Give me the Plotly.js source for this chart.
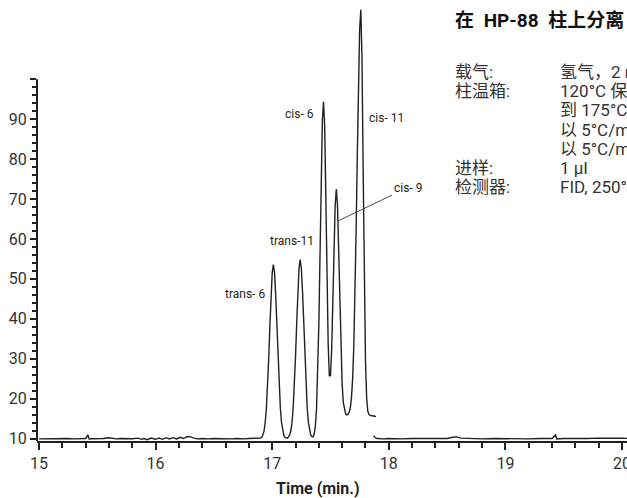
<!DOCTYPE html>
<html>
<head>
<meta charset="utf-8">
<script src="https://cdn.plot.ly/plotly-3.0.1.min.js"></script>
<style>
html,body{margin:0;padding:0;overflow:hidden;background:#fff;}
#chart{width:700px;height:498px;}
</style>
</head>
<body>
<div id="chart"></div>
<script>
// ---- data ----
const baseTimeA = [15.00,15.05,15.10,15.15,15.20,15.25,15.30,15.35,15.40,15.42,15.43,15.45,15.50,15.55,15.60,15.63,15.66,15.70,15.75,15.80,15.85,15.88,15.90,15.93,15.96,16.00,16.03,16.06,16.09,16.12,16.15,16.18,16.21,16.24,16.27,16.30,16.33,16.36,16.40,16.45,16.50,16.55,16.60,16.65,16.70,16.75,16.80,16.85,16.89];
const baseValA  = [9.9,9.95,10.0,9.9,9.95,10.0,9.9,9.95,10.0,10.9,9.9,9.95,9.9,10.0,10.2,10.1,9.9,10.0,9.9,9.95,10.1,9.8,10.0,9.7,10.1,9.8,10.1,9.8,10.2,9.9,10.2,9.9,10.3,10.0,10.5,10.4,10.1,9.9,10.0,9.9,10.0,9.95,10.0,9.9,10.0,9.9,10.0,10.0,10.0];

const peakTime = [16.90,16.91,16.92,16.93,16.94,16.95,16.96,16.97,16.98,16.99,17.00,17.01,17.02,17.03,17.04,17.05,17.06,17.07,17.08,17.09,17.10,17.11,17.12,17.13,17.14,17.15,17.16,17.17,17.18,17.19,17.20,17.21,17.22,17.23,17.24,17.25,17.26,17.27,17.28,17.29,17.30,17.31,17.32,17.33,17.34,17.35,17.36,17.37,17.38,17.39,17.40,17.41,17.42,17.43,17.44,17.45,17.46,17.47,17.48,17.49,17.50,17.51,17.52,17.53,17.54,17.55,17.56,17.57,17.58,17.59,17.60,17.61,17.62,17.63,17.64,17.65,17.66,17.67,17.68,17.69,17.70,17.71,17.72,17.73,17.74,17.75,17.76,17.77,17.78,17.79,17.80,17.81,17.82,17.83,17.84,17.85,17.86,17.87,17.88,17.89];
const peakSignal = [10.1,10.3,10.8,11.9,14.0,17.5,22.9,30.0,38.1,45.9,51.5,53.6,51.5,45.9,38.1,30.0,22.9,17.5,14.0,11.9,10.8,10.3,10.1,10.1,10.4,10.9,12.0,14.1,17.7,23.2,30.5,38.9,46.9,52.6,54.8,52.6,46.9,38.9,30.5,23.2,17.7,14.1,12.0,10.9,10.5,10.4,11.1,13.1,17.3,25.4,38.5,55.8,74.6,89.5,94.4,88.3,70.4,49.6,33.7,25.6,25.8,32.3,43.8,57.2,68.4,72.5,68.4,57.2,43.6,31.6,23.5,19.0,16.9,16.1,15.9,16.1,16.6,17.7,20.3,25.1,33.3,45.8,62.4,81.3,99.5,112.6,117.4,105.4,77.4,48.8,29.4,20.2,16.8,16.0,15.8,15.7,15.7,15.6,15.6,15.5];

const baseTimeB = [17.87,17.88,17.90,17.95,18.00,18.10,18.20,18.30,18.40,18.50,18.55,18.58,18.62,18.70,18.80,18.90,19.00,19.10,19.20,19.30,19.40,19.43,19.44,19.50,19.60,19.70,19.80,19.90,20.00,20.10,20.20,20.30,20.40,20.50,20.60,20.70];
const baseValB  = [10.7,10.3,10.0,9.9,10.0,9.9,10.0,9.95,10.0,10.0,10.3,10.4,10.1,10.0,9.9,10.0,9.95,10.0,9.9,10.0,10.0,10.9,9.9,10.0,9.95,10.0,10.1,10.0,10.05,10.0,10.0,9.95,10.0,9.9,10.0,10.0];

const peakNames = ['trans- 6','trans-11','cis- 6','cis- 9','cis- 11'];
const peakApexTime = [17.01,17.24,17.44,17.55,17.76];
const peakApexHeight = [53.6,54.8,94.4,72.5,117.4];

const xTickVals = [15,16,17,18,19,20];
const yTickVals = [10,20,30,40,50,60,70,80,90,100];
const yTickText = ['10','20','30','40','50','60','70','80','90',''];

const xTitle = 'Time (min.)';
const headTitle = '在\u2002HP-88\u2002柱上分离 C18:1 异构体';
const condLabels = ['载气:','柱温箱:','','','','进样:','检测器:'];
const condValues = ['氢气，2 ml/min','120°C 保持 1 min','到 175°C，保持 10 min','以 5°C/min 升温到 210°C','以 5°C/min 升温到 230°C','1 µl','FID, 250°C'];

// ---- layout geometry ----
const W = 700, H = 498;
const mL = 37, mR = 0, mT = 0, mB = 57;
const plotW = W - mL - mR, plotH = H - mT - mB;
const pxPerMin = 116.6, pxPerUnit = 3.991;
const x0 = 15 - 2 / pxPerMin;
const y0 = 10 - 2.5 / pxPerUnit;
const xRange = [x0, x0 + plotW / pxPerMin];
const yRange = [y0, y0 + plotH / pxPerUnit];
const px2paperX = p => (p - mL) / plotW;
const px2paperY = p => (mT + plotH - p) / plotH;

const LAT = "Roboto,'Noto Sans CJK SC',sans-serif";
const INK = '#231f20';

const xsJoined = baseTimeA.concat(peakTime, [null], baseTimeB);
const ysJoined = baseValA.concat(peakSignal, [null], baseValB);

const trace = {
  x: xsJoined, y: ysJoined, type: 'scatter', mode: 'lines',
  line: {color: INK, width: 1.4}, connectgaps: false, hoverinfo: 'skip'
};

const annotations = [];
const lblCfg = [
  {xa:'center', dx:-28.6, dy:-30},
  {xa:'center', dx:-8.3, dy:18.3},
  {xa:'right', dx:-8, dy:-12.3},
  null,
  {xa:'left', dx:6, dy:-108}
];
peakNames.forEach((n,i)=>{
  if (i === 3) {
    annotations.push({
      x: peakApexTime[i], y: peakApexHeight[i], xref:'x', yref:'y',
      xshift: 2.3, yshift: -31.6,
      text: n, showarrow: true, arrowhead: 0, arrowwidth: 0.8, arrowcolor: INK,
      ax: 69, ay: -33, xanchor:'center', yanchor:'middle',
      font:{family: LAT, size: 12, color: INK}
    });
  } else {
    const c = lblCfg[i];
    annotations.push({
      x: peakApexTime[i], y: peakApexHeight[i], xref:'x', yref:'y',
      xshift: c.dx, yshift: c.dy, text: n, showarrow:false,
      xanchor: c.xa, yanchor:'middle',
      font:{family: LAT, size: 12, color: INK}
    });
  }
});
annotations.push({
  x: px2paperX(318), y: px2paperY(488), xref:'paper', yref:'paper',
  text: '<b>'+xTitle+'</b>', showarrow:false, xanchor:'center', yanchor:'middle',
  font:{family: LAT, size: 16, color: INK}
});
annotations.push({
  x: px2paperX(453), y: px2paperY(20), xref:'paper', yref:'paper',
  text: '<b>'+headTitle+'</b>', showarrow:false, xanchor:'left', yanchor:'middle',
  font:{family: LAT, size: 19, color: '#111'}
});
const rowY = [72, 91, 110, 130, 149, 168, 187];
condLabels.forEach((l,i)=>{
  if (l) annotations.push({
    x: px2paperX(453), y: px2paperY(rowY[i]), xref:'paper', yref:'paper',
    text: l, showarrow:false, xanchor:'left', yanchor:'middle',
    font:{family: LAT, size: 17, color: '#333'}
  });
  annotations.push({
    x: px2paperX(558), y: px2paperY(rowY[i]), xref:'paper', yref:'paper',
    text: condValues[i], showarrow:false, xanchor:'left', yanchor:'middle',
    font:{family: LAT, size: 17, color: '#333'}
  });
});

const minorY = [];
for (let v = 12; v < 100; v += 2) if (v % 10 !== 0) minorY.push(v);

const layout = {
  width: W, height: H,
  margin: {l: mL, r: mR, t: mT, b: mB, pad: 0},
  paper_bgcolor: '#fff', plot_bgcolor: '#fff',
  showlegend: false,
  font: {family: LAT, color: INK, size: 16},
  xaxis: {
    range: xRange, showgrid: false, zeroline: false,
    showline: true, linecolor: INK, linewidth: 2,
    ticks: 'outside', ticklen: 7, tickwidth: 2, tickcolor: INK,
    tickmode: 'array', tickvals: xTickVals, ticktext: xTickVals.map(String),
    tickfont: {family: LAT, size: 16, color: '#333'},
    minor: {dtick: 0.2, tick0: 15, ticks: 'outside', ticklen: 5, tickwidth: 2, tickcolor: INK, showgrid: false}
  },
  yaxis: {
    range: yRange, showgrid: false, zeroline: false, showline: false,
    ticks: 'outside', ticklen: 6, tickwidth: 2, tickcolor: INK,
    tickmode: 'array', tickvals: yTickVals, ticktext: yTickText,
    tickfont: {family: LAT, size: 16, color: '#333'},
    minor: {tickmode: 'array', tickvals: minorY, ticks: 'outside', ticklen: 4, tickwidth: 2, tickcolor: INK, showgrid: false}
  },
  shapes: [{
    type: 'line', xref: 'paper', yref: 'y', x0: 0, x1: 0, y0: yRange[0], y1: 100,
    line: {color: INK, width: 2}
  }],
  annotations: annotations
};

Plotly.newPlot('chart', [trace], layout, {staticPlot: true, displayModeBar: false});
</script>
</body>
</html>
